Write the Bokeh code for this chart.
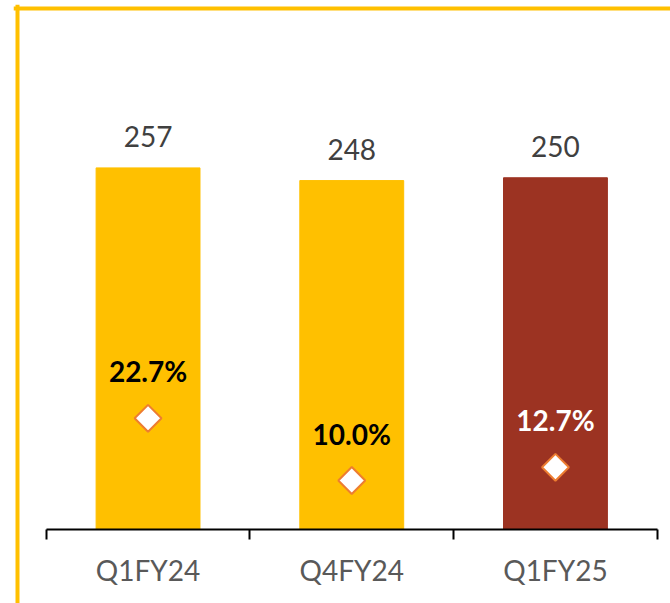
from math import pi
from bokeh.plotting import figure
from bokeh.models import Range1d, LinearAxis, FixedTicker, ColumnDataSource, Span
from bokeh.core.properties import value
from bokeh.embed import file_html
from bokeh.resources import INLINE

categories = ["Q1FY24", "Q4FY24", "Q1FY25"]
volumes = [257, 248, 250]
growth_pct = [22.7, 10.0, 12.7]
pct_labels = ["22.7%", "10.0%", "12.7%"]

# layout constants (pixels)
W, H = 670, 603
FRAME_LEFT, FRAME_TOP = 13, 4
AXIS_X0 = 45.7          # pixel x of category axis start
CAT_PX = 203.7          # pixels per category
BASE_Y = 529            # pixel y of the baseline
PX_PER_UNIT = 1.407
PX_PER_PCT = 4.9

x = [i + 0.5 for i in range(len(categories))]
boundaries = [float(i) for i in range(len(categories) + 1)]
bar_colors = ["#FFC000", "#FFC000", "#9C3322"]
pct_text_colors = ["#000000", "#000000", "#FFFFFF"]

src = ColumnDataSource(dict(
    x=x, v=volumes, vl=[str(v) for v in volumes],
    g=growth_pct, gl=pct_labels, c=bar_colors, tc=pct_text_colors,
))

x_range = Range1d((FRAME_LEFT - AXIS_X0) / CAT_PX, (W - AXIS_X0) / CAT_PX)
y_range = Range1d(-(H - BASE_Y) / PX_PER_UNIT, (BASE_Y - FRAME_TOP) / PX_PER_UNIT)

p = figure(width=W, height=H, output_backend="svg", toolbar_location=None,
           x_range=x_range, y_range=y_range,
           min_border_left=FRAME_LEFT, min_border_right=0, min_border_top=FRAME_TOP,
           min_border_bottom=0, x_axis_location=None, y_axis_location=None)
p.outline_line_color = None
p.xgrid.visible = False
p.ygrid.visible = False
p.background_fill_color = "white"
p.border_fill_color = "white"
p.extra_y_ranges = {"pct": Range1d(-(H - BASE_Y) / PX_PER_PCT, (BASE_Y - FRAME_TOP) / PX_PER_PCT)}

p.vbar(x="x", top="v", bottom=0, width=0.51, color="c", source=src)
p.text(x="x", y="v", text="vl", y_offset=-31, text_align="center", text_baseline="alphabetic",
       text_font=value("Lato"), text_font_size="28px", text_color="#404040", source=src)
p.scatter(x="x", y="g", marker="square", angle=pi / 4, size=19, fill_color="white",
          line_color="#ED7D31", line_width=2, y_range_name="pct", source=src)
p.text(x="x", y="g", text="gl", y_offset=-47, text_align="center", text_baseline="alphabetic",
       text_font=value("Lato"), text_font_style="bold", text_font_size="28px",
       text_color="tc", y_range_name="pct", source=src)

xaxis = LinearAxis(ticker=FixedTicker(ticks=x, minor_ticks=boundaries),
                   major_label_overrides={xi: c for xi, c in zip(x, categories)},
                   fixed_location=0, bounds=(boundaries[0], boundaries[-1]))
xaxis.major_tick_out = 0
xaxis.major_tick_in = 0
xaxis.minor_tick_out = 10
xaxis.minor_tick_in = 0
xaxis.minor_tick_line_width = 2
xaxis.minor_tick_line_color = "black"
xaxis.axis_line_width = 2
xaxis.axis_line_color = "black"
xaxis.major_label_standoff = 13
xaxis.major_label_text_font = "Lato"
xaxis.major_label_text_font_size = "28px"
xaxis.major_label_text_color = "#595959"
p.add_layout(xaxis, "below")

# yellow frame lines (top and left)
p.add_layout(Span(location=(BASE_Y - 8) / PX_PER_UNIT, dimension="width",
                  line_color="#FFC000", line_width=4))
p.add_layout(Span(location=(17 - AXIS_X0) / CAT_PX, dimension="height",
                  line_color="#FFC000", line_width=4))

open("out.html", "w").write(file_html(p, INLINE))
